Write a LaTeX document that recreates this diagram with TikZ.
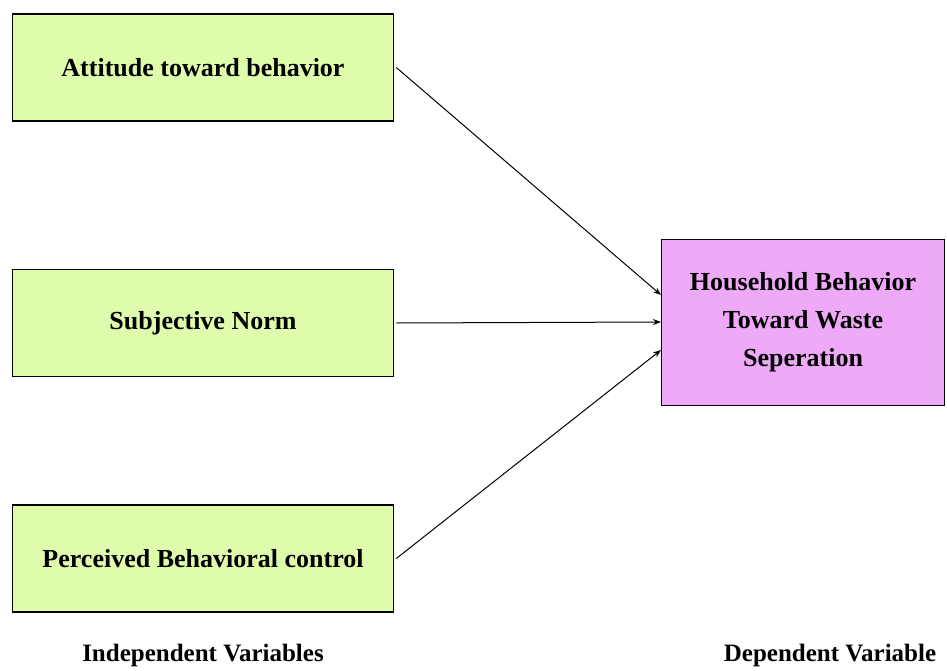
\documentclass[tikz,border=0pt]{standalone}
\usepackage{fontspec}
\setmainfont{Liberation Serif}
\usetikzlibrary{arrows.meta}
\definecolor{boxgreen}{RGB}{222,252,172}
\definecolor{boxpink}{RGB}{238,170,248}
\begin{document}
\begin{tikzpicture}[x=1pt,y=-1pt,
  ivbox/.style={draw=black,line width=1.6pt,fill=boxgreen,minimum width=381pt,minimum height=107pt,inner sep=0pt,font=\fontsize{26}{30}\selectfont\bfseries},
  dvbox/.style={draw=black,line width=1.6pt,fill=boxpink,minimum width=283pt,minimum height=166pt,inner sep=0pt,align=center,font=\fontsize{26}{38}\selectfont\bfseries},
  conn/.style={line width=1pt,-{Stealth[length=8pt,width=6pt]}},
  lbl/.style={font=\fontsize{25}{30}\selectfont\bfseries}]
\useasboundingbox (0,0) rectangle (947,671);
\node[ivbox] (att) at (203,67.5) {Attitude toward behavior};
\node[ivbox] (sn) at (203,323) {Subjective Norm};
\node[ivbox] (pbc) at (203,558.5) {Perceived Behavioral control};
\node[dvbox] (dv) at (803,322.5) {Household Behavior\\Toward Waste\\Seperation};
\coordinate (t1) at (661,295);
\coordinate (t2) at (661,322);
\coordinate (t3) at (661,350);
\draw[conn] (att.east) ++(2,0) -- (t1);
\draw[conn] (sn.east) ++(2,0) -- (t2);
\draw[conn] (pbc.east) ++(2,0) -- (t3);
\node[lbl] (iv) at (203,655) {Independent Variables};
\node[lbl] (dvl) at (830,655) {Dependent Variable};
\end{tikzpicture}
\end{document}
